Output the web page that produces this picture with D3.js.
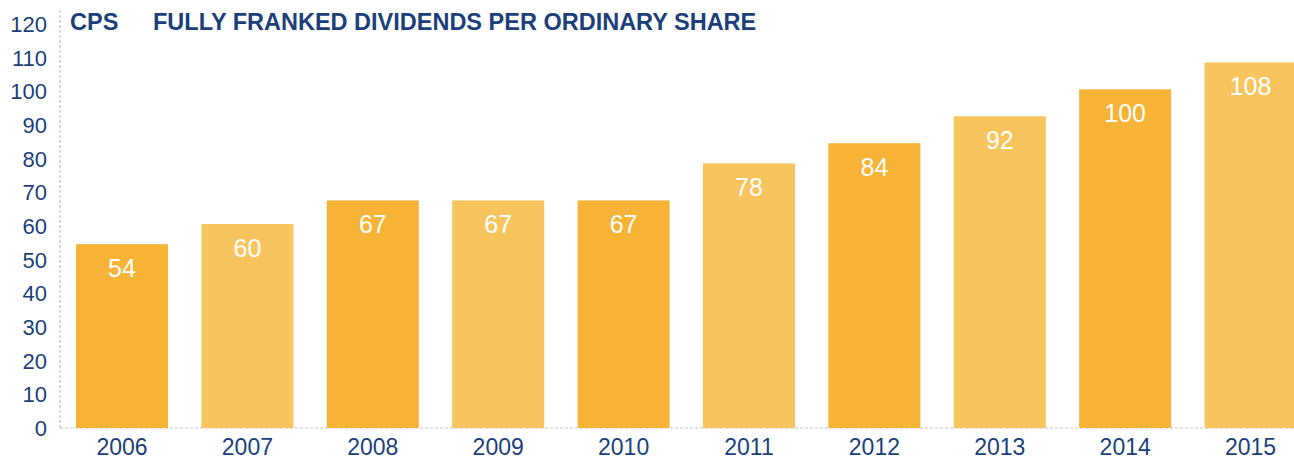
<!DOCTYPE html>
<html>
<head>
<meta charset="utf-8">
<script src="https://cdn.jsdelivr.net/npm/d3@7"></script>
<style>
  body { margin: 0; background: #fff; }
  svg { display: block; font-family: "Liberation Sans", Arial, sans-serif; }
</style>
</head>
<body>
<svg id="chart"></svg>
<script>
// data
const years = ["2006", "2007", "2008", "2009", "2010", "2011", "2012", "2013", "2014", "2015"];
const dividends = [54, 60, 67, 67, 67, 78, 84, 92, 100, 108];
const yTicks = [0, 10, 20, 30, 40, 50, 60, 70, 80, 90, 100, 110, 120];

const width = 1294, height = 459;
const navy = "#1c3f7a";
const axisCol = "#b9c4d6";
const barDark = "#f6b335", barLight = "#f7c45e";

const svg = d3.select("#chart")
    .attr("width", width)
    .attr("height", height);

const axisX = 60, zeroY = 428;

const x = d3.scaleBand()
    .domain(years)
    .range([76, 1296.6])
    .paddingInner(0.266)
    .paddingOuter(0);

const y = d3.scaleLinear()
    .domain([0, 120])
    .range([zeroY, 24]);

// dashed axis lines
svg.append("line")
    .attr("x1", axisX).attr("x2", axisX)
    .attr("y1", 10).attr("y2", zeroY)
    .attr("stroke", axisCol).attr("stroke-width", 1.2)
    .attr("stroke-dasharray", "3,2");

svg.append("line")
    .attr("x1", axisX).attr("x2", width)
    .attr("y1", zeroY).attr("y2", zeroY)
    .attr("stroke", axisCol).attr("stroke-width", 1.2)
    .attr("stroke-dasharray", "3,2");

// y tick labels
svg.append("g").selectAll("text")
    .data(yTicks)
    .join("text")
    .attr("x", 47)
    .attr("y", d => y(d))
    .attr("dy", "0.36em")
    .attr("text-anchor", "end")
    .attr("fill", navy)
    .attr("font-size", 22)
    .text(d => d);

// bars
const bars = svg.append("g").selectAll("g")
    .data(years.map((yr, i) => ({ year: yr, value: dividends[i], i: i })))
    .join("g");

bars.append("rect")
    .attr("x", d => x(d.year))
    .attr("width", x.bandwidth())
    .attr("y", d => y(d.value) - 2)
    .attr("height", d => zeroY - y(d.value) + 2)
    .attr("fill", d => d.i % 2 === 0 ? barDark : barLight);

bars.append("text")
    .attr("x", d => x(d.year) + x.bandwidth() / 2)
    .attr("y", d => y(d.value) + 31)
    .attr("text-anchor", "middle")
    .attr("fill", "#fff")
    .attr("font-size", 25)
    .text(d => d.value);

// x labels
svg.append("g").selectAll("text")
    .data(years)
    .join("text")
    .attr("x", d => x(d) + x.bandwidth() / 2)
    .attr("y", 455)
    .attr("text-anchor", "middle")
    .attr("fill", navy)
    .attr("font-size", 23)
    .text(d => d);

// title
svg.append("text")
    .attr("x", 70).attr("y", 30)
    .attr("fill", navy)
    .attr("font-size", 23.5)
    .attr("font-weight", "bold")
    .text("CPS");

svg.append("text")
    .attr("x", 153).attr("y", 30)
    .attr("fill", navy)
    .attr("font-size", 23.5)
    .attr("font-weight", "bold")
    .text("FULLY FRANKED DIVIDENDS PER ORDINARY SHARE");
</script>
</body>
</html>
